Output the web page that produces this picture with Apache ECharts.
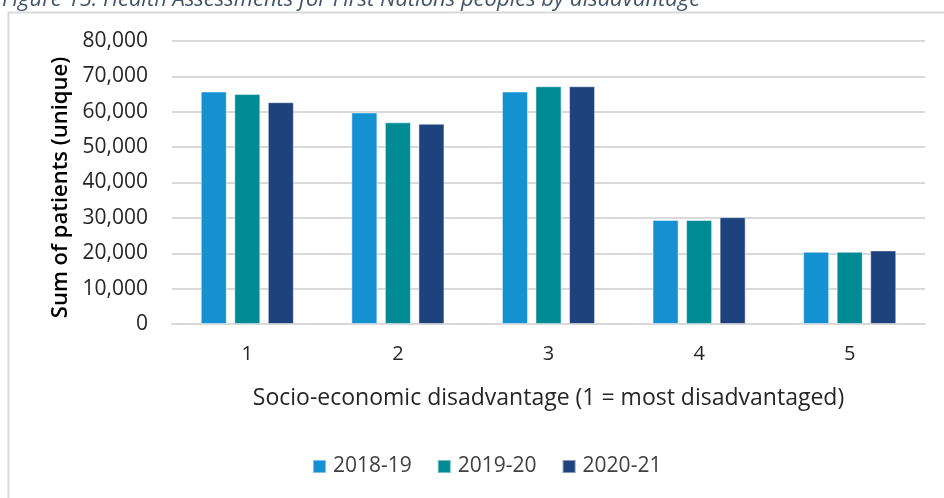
<!DOCTYPE html>
<html>
<head>
<meta charset="utf-8">
<script src="https://cdn.jsdelivr.net/npm/echarts@6/dist/echarts.min.js"></script>
<style>
  html, body { margin: 0; padding: 0; background: #fff; }
  #chart { width: 944px; height: 498px; }
</style>
</head>
<body>
<div id="chart"></div>
<script>
// Socio-economic disadvantage quintiles (1 = most disadvantaged)
const categories = ['1', '2', '3', '4', '5'];
const seriesNames = ['2018-19', '2019-20', '2020-21'];
const values2018 = [65700, 59800, 65700, 29400, 20400];
const values2019 = [65000, 57000, 67200, 29400, 20400];
const values2020 = [62700, 56600, 67200, 30200, 20800];
const colors = ['#1591D1', '#008A93', '#1E427C'];

const FONT = '"Open Sans", "Noto Sans", sans-serif';
const chart = echarts.init(document.getElementById('chart'));

const data = [values2018, values2019, values2020];

chart.setOption({
  animation: false,
  backgroundColor: '#fff',
  title: {
    text: 'Figure 15: Health Assessments for First Nations peoples by disadvantage',
    left: -3,
    top: -16,
    textStyle: { fontFamily: FONT, fontStyle: 'italic', fontWeight: 'normal', fontSize: 22, color: '#44546A' }
  },
  graphic: [{
    type: 'rect',
    shape: { x: 8.5, y: 12.5, width: 960, height: 520 },
    style: { fill: 'none', stroke: '#D9D9D9', lineWidth: 2 },
    silent: true,
    z: -1
  }],
  grid: { left: 172, right: 19, top: 41, bottom: 174, containLabel: false },
  legend: {
    bottom: 16,
    left: 307,
    itemWidth: 13,
    itemHeight: 13,
    itemGap: 25,
    icon: 'rect',
    textStyle: { fontFamily: FONT, fontSize: 21, color: '#404040', padding: [0, 0, 0, 2] },
    data: seriesNames
  },
  xAxis: {
    type: 'category',
    data: categories,
    axisLine: { lineStyle: { color: '#D9D9D9', width: 2 } },
    axisTick: { show: false },
    axisLabel: { fontFamily: FONT, fontSize: 20, color: '#262626', margin: 20 },
    name: 'Socio-economic disadvantage (1 = most disadvantaged)',
    nameLocation: 'middle',
    nameGap: 63,
    nameTextStyle: { fontFamily: FONT, fontSize: 23, color: '#262626' }
  },
  yAxis: {
    type: 'value',
    min: 0,
    max: 80000,
    interval: 10000,
    axisLine: { show: false },
    axisTick: { show: false },
    splitLine: { lineStyle: { color: '#D9D9D9', width: 2 } },
    axisLabel: {
      fontFamily: FONT, fontSize: 21, color: '#262626', margin: 24,
      formatter: v => v.toLocaleString('en-US')
    },
    name: 'Sum of patients (unique)',
    nameLocation: 'middle',
    nameGap: 100,
    nameTextStyle: { fontFamily: FONT, fontSize: 22, fontWeight: 600, color: '#000', padding: [0, 10, 0, 0] }
  },
  series: seriesNames.map((name, i) => ({
    name,
    type: 'bar',
    data: data[i],
    barWidth: 26,
    barGap: '29%',
    itemStyle: { color: colors[i], borderColor: 'rgba(255,255,255,0.45)', borderWidth: 1 }
  }))
});
</script>
</body>
</html>
